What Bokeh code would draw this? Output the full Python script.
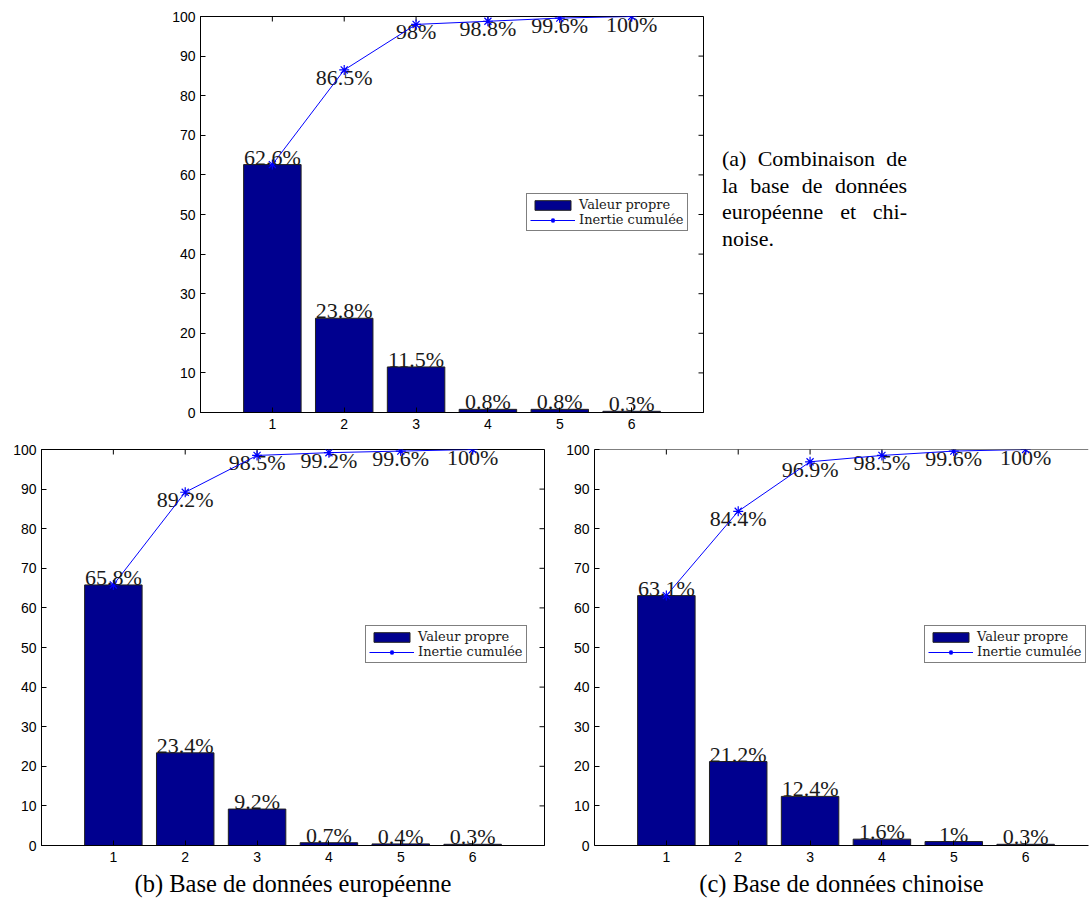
import math
from bokeh.plotting import figure
from bokeh.models import (ColumnDataSource, LinearAxis, FixedTicker, Legend, LegendItem,
                          Div, Spacer, Range1d, Span)
from bokeh.layouts import row, column
from bokeh.embed import file_html
from bokeh.resources import INLINE
from bokeh.core.properties import value

# ---------------- data ----------------
components = [1, 2, 3, 4, 5, 6]
y_ticks = [0, 10, 20, 30, 40, 50, 60, 70, 80, 90, 100]

eig_a = [62.6, 23.8, 11.5, 0.8, 0.8, 0.3]
cum_a = [62.6, 86.5, 98.0, 98.8, 99.6, 100.0]

eig_b = [65.8, 23.4, 9.2, 0.7, 0.4, 0.3]
cum_b = [65.8, 89.2, 98.5, 99.2, 99.6, 100.0]

eig_c = [63.1, 21.2, 12.4, 1.6, 1.0, 0.3]
cum_c = [63.1, 84.4, 96.9, 98.5, 99.6, 100.0]

legend_labels = ["Valeur propre", "Inertie cumulée"]
caption_a = "(a) Combinaison de la base de données européenne et chi&shy;noise."
caption_b = "(b) Base de données européenne"
caption_c = "(c) Base de données chinoise"

BAR_COLOR = "#00008F"
LINE_COLOR = "#0000FF"
SERIF = "Liberation Serif"
SANS = "Liberation Sans"
UNIT_PX = 503 / 7.0
Y_MAX = 100


def pct(v):
    return f"{v:g}%"


def make_panel(eig, cum, left, right, top, bottom, frame_w, caption=None,
               full_box=True, legend_xy=(326, 181)):
    x_end = frame_w / UNIT_PX
    src = ColumnDataSource(dict(x=components, eig=eig, cum=cum,
                                eig_lab=[pct(v) for v in eig],
                                cum_lab=[pct(v) for v in cum]))
    p = figure(frame_width=frame_w, frame_height=396,
               x_range=Range1d(0, x_end), y_range=Range1d(0, Y_MAX),
               output_backend="svg", toolbar_location=None,
               min_border_left=left, min_border_right=right,
               min_border_top=top, min_border_bottom=bottom,
               x_axis_type=None, y_axis_type=None)
    p.grid.visible = False
    p.background_fill_color = "white"
    p.border_fill_color = "white"
    if full_box:
        p.outline_line_color = "black"
        p.outline_line_width = 1
    else:
        p.outline_line_color = None
        p.add_layout(Span(location=Y_MAX, dimension="width",
                          line_color="black", line_width=1))

    def style_axis(ax, standoff):
        ax.axis_line_color = "black"
        ax.axis_line_width = 1
        ax.major_tick_line_color = "black"
        ax.major_tick_in = 5
        ax.major_tick_out = 0
        ax.minor_tick_in = 0
        ax.minor_tick_out = 0
        ax.major_label_standoff = standoff
        ax.major_label_text_font = SANS
        ax.major_label_text_color = "black"
        ax.major_label_text_font_size = "14px"

    xb = LinearAxis(ticker=FixedTicker(ticks=components))
    style_axis(xb, 6)
    if caption:
        xb.axis_label = caption
        xb.axis_label_text_font = SERIF
        xb.axis_label_text_font_style = "normal"
        xb.axis_label_text_font_size = "24.5px"
        xb.axis_label_text_color = "black"
        xb.axis_label_standoff = 5
    p.add_layout(xb, "below")

    yl = LinearAxis(ticker=FixedTicker(ticks=y_ticks))
    style_axis(yl, 5)
    p.add_layout(yl, "left")

    # mirrored inward ticks on top (and right) edges of the box
    tsrc = ColumnDataSource(dict(x=components, y=[Y_MAX] * len(components)))
    p.scatter(x="x", y="y", source=tsrc, marker="dash", size=10,
              angle=math.pi / 2, line_color="black", line_width=1)
    if full_box:
        rsrc = ColumnDataSource(dict(x=[x_end] * len(y_ticks), y=y_ticks))
        p.scatter(x="x", y="y", source=rsrc, marker="dash", size=10,
                  line_color="black", line_width=1)

    # cumulative labels first, so the bars hide any that fall on them
    p.text(x="x", y="cum", text="cum_lab", source=src, text_align="center",
           text_baseline="top", y_offset=-5, text_font=value(SERIF),
           text_font_size="22px", text_color="#1a1a1a")

    bars = p.vbar(x="x", top="eig", width=0.8, source=src,
                  fill_color=BAR_COLOR, line_color="#202020", line_width=1)
    ln = p.line(x="x", y="cum", source=src, line_color=LINE_COLOR, line_width=1)
    pts = p.scatter(x="x", y="cum", source=src, marker="asterisk", size=10,
                    line_color=LINE_COLOR, line_width=1.2)

    p.text(x="x", y="eig", text="eig_lab", source=src, text_align="center",
           text_baseline="bottom", y_offset=5, text_font=value(SERIF),
           text_font_size="22px", text_color="#1a1a1a")

    leg = Legend(items=[LegendItem(label=legend_labels[0], renderers=[bars]),
                        LegendItem(label=legend_labels[1], renderers=[ln, pts])],
                 location=legend_xy)
    leg.border_line_color = "black"
    leg.border_line_width = 1
    leg.background_fill_color = "white"
    leg.background_fill_alpha = 1
    leg.label_text_font = "DejaVu Serif"
    leg.label_text_font_size = "13px"
    leg.label_text_color = "#1a1a1a"
    leg.glyph_width = 45
    leg.glyph_height = 12
    leg.label_height = 13
    leg.label_standoff = 4
    leg.padding = 3
    leg.spacing = 0
    leg.margin = 0
    p.add_layout(leg, "center")
    return p


pa = make_panel(eig_a, cum_a, left=40, right=19, top=16, bottom=26, frame_w=503,
                legend_xy=(326, 181))
pb = make_panel(eig_b, cum_b, left=41, right=17, top=11, bottom=58, frame_w=503,
                caption=caption_b, legend_xy=(324, 182))
pc = make_panel(eig_c, cum_c, left=33, right=2, top=11, bottom=58, frame_w=494,
                caption=caption_c, full_box=False, legend_xy=(330, 182))

cap = Div(text=('<div style="font-family:\'Liberation Serif\';font-size:22px;'
                'line-height:26.7px;text-align:justify;color:black;width:185px;">'
                + caption_a + '</div>'),
          width=185, margin=(0, 0, 0, 0))

top_row = row(Spacer(width=160, height=10), pa,
              column(Spacer(width=185, height=146), cap))
layout = column(top_row, row(pb, pc))

open("out.html", "w").write(file_html(layout, INLINE))
